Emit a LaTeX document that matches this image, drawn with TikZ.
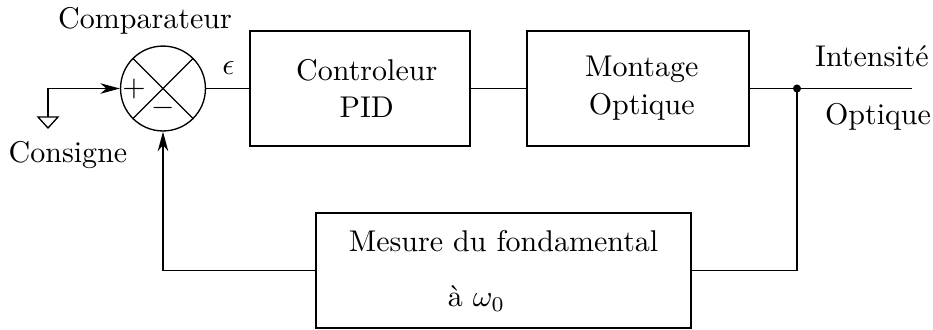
\documentclass[tikz,border=0pt]{standalone}
\usetikzlibrary{arrows.meta}
\begin{document}
\begin{tikzpicture}[x=0.3333pt,y=-0.3333pt,line width=0.45pt,
  blk/.style={draw,minimum height=38.3pt,inner sep=0pt,align=center},
  lbl/.style={inner sep=0pt,anchor=center},
  arr/.style={-{Stealth[length=6.5pt,width=3.5pt,inset=2pt]}}]
\useasboundingbox (0,0) rectangle (933,329);
% blocks
\node[draw,circle,minimum size=28.3pt,inner sep=0pt] (cmp) at (163,88.5) {};
\node[blk,minimum width=73.3pt] (pid) at (360,88.5) {\hspace*{4.5pt}Controleur\\[0.6pt]\hspace*{4.5pt}PID};
\node[blk,minimum width=74pt] (mont) at (638,88.5) {\hspace*{2.5pt}Montage\\[0.6pt]\hspace*{2.5pt}Optique};
\node[blk,minimum width=125pt] (mes) at (503.5,270.5) {Mesure du fondamental\\[6.5pt]\hspace*{-18pt}\`a $\omega_0$};
% comparator marks
\draw (cmp.45) -- (cmp.225) (cmp.135) -- (cmp.315);
\node[lbl] (plus) at (134,88.5) {$+$};
\node[lbl] (minus) at (163,108) {$-$};
% ground and input
\coordinate (g) at (48,117);
\draw (38,117) -- (58,117) -- (48,128) -- cycle;
\draw[arr] (g) |- (cmp.west);
% forward path
\draw (cmp.east) -- (pid.west);
\draw (pid.east) -- (mont.west);
\coordinate (jn) at (797,88.5);
\coordinate (out) at (912,88.5);
\draw (mont.east) -- (out);
\fill (jn) circle (1.35pt);
% feedback
\draw (jn) |- (mes.east);
\draw[arr] (mes.west) -| (cmp.south);
% labels
\node[lbl] (tcmp) at (145,21) {Comparateur};
\node[lbl] (tcons) at (68,155) {Consigne};
\node[lbl] (teps) at (228.5,68.5) {$\epsilon$};
\node[lbl] (tint) at (872,56) {Intensit\'e};
\node[lbl] (topt) at (878,117) {Optique};
\end{tikzpicture}
\end{document}
